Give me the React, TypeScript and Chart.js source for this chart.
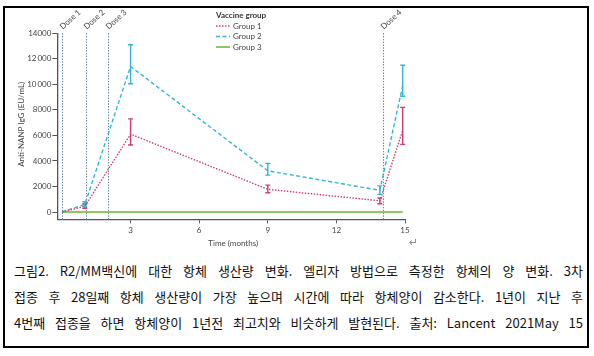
import React, { useEffect, useRef } from "react";
import { Chart, registerables } from "chart.js";

Chart.register(...registerables);

// ---------- data ----------
const MONTHS = [0, 1, 3, 9, 13.9, 14.9];
const GROUP1 = [0, 450, 6100, 1780, 880, 6400];
const GROUP1_LOW = [null, 300, 5250, 1510, 650, 5300];
const GROUP1_HIGH = [null, 650, 7300, 2110, 1100, 8200];
const GROUP2 = [0, 600, 11400, 3230, 1700, 9900];
const GROUP2_LOW = [null, 460, 10050, 2890, 1380, 9070];
const GROUP2_HIGH = [null, 800, 13100, 3810, 2050, 11500];
const GROUP3 = [0, 0, 0, 0, 0, 0];
const SERIES_NAMES = ["Group 1", "Group 2", "Group 3"];
const LEGEND_TITLE = "Vaccine group";

const DOSE_MONTHS = [0, 1.03, 2.02, 14.04];
const DOSE_LABELS = ["Dose 1", "Dose 2", "Dose 3", "Dose 4"];

const X_TICKS = [3, 6, 9, 12, 15];
const Y_TICKS = [0, 2000, 4000, 6000, 8000, 10000, 12000, 14000];
const Y_TICK_LABELS = ["0", "2000", "4000", "6000", "8000", "10\u2009000", "12\u2009000", "14000"];
const X_TITLE = "Time (months)";
const Y_TITLE = "Anti-NANP IgG (EU/mL)";

const CAPTION_LINES = [
  "그림2. R2/MM백신에 대한 항체 생산량 변화. 엘리자 방법으로 측정한 항체의 양 변화. 3차",
  "접종 후 28일째 항체 생산량이 가장 높으며 시간에 따라 항체양이 감소한다. 1년이 지난 후",
  "4번째 접종을 하면 항체양이 1년전 최고치와 비슷하게 발현된다. 출처: Lancent 2021May 15",
];

// ---------- styles ----------
const FONT = "Lato, 'Open Sans', sans-serif";
const TEXT_COLOR = "#444444";
const AXIS_COLOR = "#555555";
const RED = "#d23c6c";
const BLUE = "#33b5d9";
const GREEN = "#8dc863";
const DOSE_COLOR = "#6a8a9c";

const CANVAS_W = 594;
const CANVAS_H = 256;

const errorBarPlugin = {
  id: "errorBars",
  afterDatasetsDraw(chart: any) {
    const ctx = chart.ctx;
    const xs = chart.scales.x;
    const ys = chart.scales.y;
    chart.data.datasets.forEach((ds: any) => {
      if (!ds.errLow) return;
      ctx.save();
      ctx.strokeStyle = ds.borderColor;
      ctx.lineWidth = 1.4;
      ctx.setLineDash([]);
      ds.data.forEach((p: any, i: number) => {
        const lo = ds.errLow[i];
        const hi = ds.errHigh[i];
        if (lo == null || hi == null) return;
        const x = xs.getPixelForValue(p.x);
        const y1 = ys.getPixelForValue(lo);
        const y2 = ys.getPixelForValue(hi);
        ctx.beginPath();
        ctx.moveTo(x, y1);
        ctx.lineTo(x, y2);
        ctx.moveTo(x - 2.5, y1);
        ctx.lineTo(x + 2.5, y1);
        ctx.moveTo(x - 2.5, y2);
        ctx.lineTo(x + 2.5, y2);
        ctx.stroke();
      });
      ctx.restore();
    });
  },
};

const dosePlugin = {
  id: "doses",
  beforeDatasetsDraw(chart: any) {
    const ctx = chart.ctx;
    const xs = chart.scales.x;
    const area = chart.chartArea;
    ctx.save();
    DOSE_MONTHS.forEach((m, i) => {
      const x = Math.round(xs.getPixelForValue(m)) + 0.5;
      ctx.strokeStyle = DOSE_COLOR;
      ctx.lineWidth = 1.1;
      ctx.setLineDash([1.4, 1.4]);
      ctx.beginPath();
      ctx.moveTo(x, area.top);
      ctx.lineTo(x, area.bottom);
      ctx.stroke();
      ctx.save();
      ctx.translate(x - 1.5, area.top - 5.5);
      ctx.rotate((-42 * Math.PI) / 180);
      ctx.fillStyle = TEXT_COLOR;
      ctx.font = `8px ${FONT}`;
      ctx.textAlign = "left";
      ctx.textBaseline = "middle";
      ctx.fillText(DOSE_LABELS[i], 0, 0);
      ctx.restore();
    });
    ctx.restore();
  },
};

const legendTitlesPlugin = {
  id: "legendTitles",
  afterDraw(chart: any) {
    const ctx = chart.ctx;
    const area = chart.chartArea;
    ctx.save();
    // axis titles
    ctx.fillStyle = TEXT_COLOR;
    ctx.font = `8px ${FONT}`;
    ctx.textAlign = "center";
    ctx.textBaseline = "middle";
    ctx.fillText(X_TITLE, (area.left + area.right) / 2 + 2, 243);
    ctx.save();
    ctx.translate(21, (area.top + area.bottom) / 2 - 2);
    ctx.rotate(-Math.PI / 2);
    ctx.fillText(Y_TITLE, 0, 0);
    ctx.restore();

    // legend
    const lx = 216;
    ctx.textAlign = "left";
    ctx.font = `bold 8px ${FONT}`;
    ctx.fillStyle = "#333";
    ctx.fillText(LEGEND_TITLE, lx, 15);
    const rows = [26, 36.5, 47];
    ctx.font = `8px ${FONT}`;
    chart.data.datasets.forEach((ds: any, i: number) => {
      const y = rows[i];
      ctx.strokeStyle = ds.borderColor;
      ctx.lineWidth = ds.borderWidth;
      ctx.setLineDash(ds.borderDash || []);
      ctx.beginPath();
      ctx.moveTo(lx, y);
      ctx.lineTo(lx + 14, y);
      ctx.stroke();
      ctx.fillStyle = TEXT_COLOR;
      ctx.fillText(ds.label, lx + 17, y);
    });
    ctx.restore();
  },
};

function ChartView() {
  const ref = useRef<HTMLCanvasElement | null>(null);
  useEffect(() => {
    if (!ref.current) return;
    const mk = (vals: number[]) => MONTHS.map((m, i) => ({ x: m, y: vals[i] }));
    const chart = new Chart(ref.current, {
      type: "line",
      data: {
        datasets: [
          {
            label: SERIES_NAMES[0],
            data: mk(GROUP1),
            borderColor: RED,
            borderWidth: 1.4,
            borderDash: [1.5, 1.5],
            pointRadius: 0,
            fill: false,
            tension: 0,
            errLow: GROUP1_LOW,
            errHigh: GROUP1_HIGH,
          } as any,
          {
            label: SERIES_NAMES[1],
            data: mk(GROUP2),
            borderColor: BLUE,
            borderWidth: 1.4,
            borderDash: [4, 2.5],
            pointRadius: 0,
            fill: false,
            tension: 0,
            errLow: GROUP2_LOW,
            errHigh: GROUP2_HIGH,
          } as any,
          {
            label: SERIES_NAMES[2],
            data: mk(GROUP3),
            borderColor: GREEN,
            borderWidth: 2,
            pointRadius: 0,
            fill: false,
            tension: 0,
          } as any,
        ],
      },
      options: {
        responsive: false,
        animation: false,
        devicePixelRatio: 1,
        layout: { padding: { left: 0, right: CANVAS_W - 405, top: 33.3, bottom: 0 } },
        plugins: {
          legend: { display: false },
          tooltip: { enabled: false },
          title: { display: false },
        },
        scales: {
          x: {
            type: "linear",
            min: -0.2,
            max: 15,
            afterFit: (s: any) => {
              s.height = CANVAS_H - 219.3;
            },
            afterBuildTicks: (s: any) => {
              s.ticks = X_TICKS.map((v) => ({ value: v }));
            },
            grid: {
              drawOnChartArea: false,
              drawTicks: true,
              tickLength: 4,
              color: AXIS_COLOR,
              lineWidth: 1,
            },
            border: { display: true, color: AXIS_COLOR, width: 1.3 },
            ticks: {
              color: TEXT_COLOR,
              font: { family: FONT, size: 8 },
              padding: 2,
              maxRotation: 0,
              autoSkip: false,
            },
          },
          y: {
            type: "linear",
            min: -570,
            max: 14000,
            afterFit: (s: any) => {
              s.width = 57.4;
            },
            afterBuildTicks: (s: any) => {
              s.ticks = Y_TICKS.map((v) => ({ value: v }));
            },
            grid: {
              drawOnChartArea: false,
              drawTicks: true,
              tickLength: 5,
              color: AXIS_COLOR,
              lineWidth: 1,
            },
            border: { display: true, color: AXIS_COLOR, width: 1.3 },
            ticks: {
              color: TEXT_COLOR,
              font: { family: FONT, size: 8 },
              padding: 1,
              autoSkip: false,
              callback: (v: any) => {
                const idx = Y_TICKS.indexOf(Number(v));
                return idx >= 0 ? Y_TICK_LABELS[idx] : "";
              },
            },
          },
        },
      },
      plugins: [dosePlugin, errorBarPlugin, legendTitlesPlugin],
    });
    return () => chart.destroy();
  }, []);
  return (
    <canvas
      ref={ref}
      width={CANVAS_W}
      height={CANVAS_H}
      style={{ position: "absolute", left: 0, top: 0, width: CANVAS_W, height: CANVAS_H }}
    />
  );
}

export default function App() {
  return (
    <div
      style={{
        position: "fixed",
        left: 0,
        top: 0,
        width: 594,
        height: 356,
        background: "#fff",
        overflow: "hidden",
      }}
    >
      <div
        style={{
          position: "absolute",
          left: 3,
          top: 6,
          width: 586,
          height: 342,
          border: "2px solid #000",
          boxSizing: "border-box",
        }}
      />
      <ChartView />
      <div
        style={{
          position: "absolute",
          left: 409,
          top: 236,
          fontSize: 11,
          color: "#8a8a8a",
          fontFamily: "'DejaVu Sans', sans-serif",
          lineHeight: "14px",
        }}
      >
        ↵
      </div>
      <div
        style={{
          position: "absolute",
          left: 14,
          top: 257.5,
          width: 569,
          fontFamily: "'Noto Sans CJK KR', sans-serif",
          fontSize: 13,
          lineHeight: "26.2px",
          color: "#111",
        }}
      >
        {CAPTION_LINES.map((line, i) => (
          <div
            key={i}
            style={{ textAlign: "justify", textAlignLast: "justify", whiteSpace: "nowrap" as any }}
          >
            {line}
          </div>
        ))}
      </div>
    </div>
  );
}
